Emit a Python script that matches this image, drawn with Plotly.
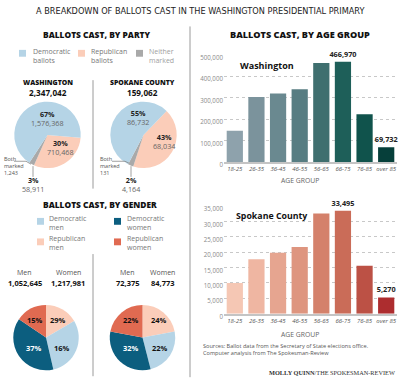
import plotly.graph_objects as go

W, H = 400, 392
def X(px): return px / W
def Y(py): return 1 - py / H

# ---------------- data ----------------
party_names = ["Republican ballots", "Neither marked", "Both marked", "Democratic ballots"]
wa_party = [710468, 58911, 1243, 1576368]
sp_party = [68034, 4164, 131, 86732]
wa_party_total = "2,347,042"
sp_party_total = "159,062"
wa_party_pct = {"dem": "67%", "rep": "30%", "neither": "3%"}
sp_party_pct = {"dem": "55%", "rep": "43%", "neither": "2%"}

gender_names = ["Republican men", "Democratic men", "Democratic women", "Republican women"]
wa_gender = [16, 29, 37, 15]
sp_gender = [22, 24, 32, 22]
wa_gender_text = ["29%", "16%", "37%", "15%"]
sp_gender_text = ["24%", "22%", "32%", "22%"]
wa_men, wa_women = "1,052,645", "1,217,981"
sp_men, sp_women = "72,375", "84,773"

age_groups = ["18-25", "26-35", "36-45", "46-55", "56-65", "66-75", "76-85", "over 85"]
wa_age = [147000, 303000, 320000, 340000, 462000, 466970, 223000, 69732]
sp_age = [10000, 17700, 19800, 21700, 32600, 33495, 15600, 5270]
labelled_bars = [5, 7]
wa_ticks = [0, 100000, 200000, 300000, 400000, 500000]
sp_ticks = [0, 5000, 10000, 15000, 20000, 25000, 30000, 35000]

# ---------------- styles ----------------
DEM = "#b5d4e6"
REP = "#fbcdb9"
NEI = "#a9a9a9"
BOTH = "#8a8a8a"
DEMW = "#0c5e7f"
REPW = "#e06a51"
wa_colors = ["#8ea2ac", "#7b939c", "#6a8990", "#577d82", "#3f6f6f", "#1e5f59", "#10534c", "#063f3a"]
sp_colors = ["#f5c7b4", "#efb6a2", "#e6a590", "#de957f", "#d4816b", "#ca6c58", "#bc5145", "#ad2d2f"]

HEAD = "Open Sans"
BODY = "Open Sans"
COND = "DejaVu Sans Condensed, Roboto, sans-serif"
GREY_TXT = "#777777"

fig = go.Figure()

def pie(values, colors, cx, cy, r, rotation, names):
    fig.add_trace(go.Pie(
        values=values, labels=names, sort=False, direction="clockwise", rotation=rotation,
        marker=dict(colors=colors, line=dict(width=0)), textinfo="none", hoverinfo="label+value",
        domain=dict(x=[X(cx - r), X(cx + r)], y=[Y(cy + r), Y(cy - r)]), showlegend=False))

pie(wa_party, [REP, NEI, BOTH, DEM], 47.5, 136, 34, 95, party_names)
pie(sp_party, [REP, NEI, BOTH, DEM], 143.5, 136, 34, 44, party_names)
pie(wa_gender, [REP, DEM, DEMW, REPW], 46, 343.5, 33.5, 0, gender_names)
pie(sp_gender, [REP, DEM, DEMW, REPW], 142.5, 343.5, 33.5, 0, gender_names)

def bars(vals, colors, xa, ya):
    txt = [f"{v:,}" if i in labelled_bars else "" for i, v in enumerate(vals)]
    fig.add_trace(go.Bar(
        x=age_groups, y=vals, marker=dict(color=colors, line=dict(width=0)),
        text=txt, textposition="outside", cliponaxis=False, constraintext="none",
        textfont=dict(family=HEAD, size=7.3, color="#222", weight="bold"),
        xaxis=xa, yaxis=ya, showlegend=False, width=0.75))

bars(wa_age, wa_colors, "x", "y")
bars(sp_age, sp_colors, "x2", "y2")

xcommon = dict(showgrid=False, showline=True, linecolor="#c4c4c4", linewidth=2, ticks="",
               tickfont=dict(family=BODY, size=6, color="#555", style="italic"), fixedrange=True)
ycommon = dict(showgrid=True, gridcolor="#c8c8c8", griddash="dot", gridwidth=1, zeroline=False,
               showline=False, ticks="", ticklabelshift=3,
               tickfont=dict(family=BODY, size=6.2, color="#8a8a8a"), fixedrange=True)

fig.update_layout(
    width=W, height=H, margin=dict(l=0, r=0, t=0, b=0),
    paper_bgcolor="white", plot_bgcolor="white", bargap=0.25,
    xaxis=dict(domain=[X(224), X(397)], anchor="y", **xcommon),
    yaxis=dict(domain=[Y(164), Y(54)], range=[0, 500000], anchor="x",
               tickvals=wa_ticks, ticktext=[f"{t:,}" for t in wa_ticks], **ycommon),
    xaxis2=dict(domain=[X(224), X(397)], anchor="y2", **xcommon),
    yaxis2=dict(domain=[Y(319), Y(209)], range=[0, 35000], anchor="x2",
                tickvals=sp_ticks, ticktext=[f"{t:,}" for t in sp_ticks], **ycommon),
)

anns = []
def ann(x, y, text, size, color="#222", family=BODY, weight="normal", xa="center", ya="middle", style="normal"):
    anns.append(dict(x=X(x), y=Y(y), xref="paper", yref="paper", text=text, showarrow=False,
                     xanchor=xa, yanchor=ya, align="left" if xa == "left" else ("right" if xa == "right" else "center"),
                     font=dict(family=family, size=size, color=color, weight=weight, style=style)))

# title
ann(200, 9, "A BREAKDOWN OF BALLOTS CAST IN THE WASHINGTON PRESIDENTIAL PRIMARY", 9.1,
    color="#222", family=COND)

# section headings
ann(97, 33, "BALLOTS CAST, BY PARTY", 8.4, color="#111", family=HEAD, weight=800)
ann(300, 33, "BALLOTS CAST, BY AGE GROUP", 9.1, color="#111", family=HEAD, weight=800)
ann(100, 207, "BALLOTS CAST, BY GENDER", 8.4, color="#111", family=HEAD, weight=800)

shapes = []
def rect(x0, y0, x1, y1, color):
    shapes.append(dict(type="rect", xref="paper", yref="paper", x0=X(x0), x1=X(x1), y0=Y(y1), y1=Y(y0),
                       fillcolor=color, line=dict(width=0)))
def line(x0, y0, x1, y1, color="#999", width=1):
    shapes.append(dict(type="line", xref="paper", yref="paper", x0=X(x0), x1=X(x1), y0=Y(y0), y1=Y(y1),
                       line=dict(color=color, width=width)))

# party legend
rect(19, 49, 26, 56, DEM)
ann(31, 55, "Democratic<br>ballots", 7, color=GREY_TXT, xa="left")
rect(78, 49, 85, 56, REP)
ann(89, 55, "Republican<br>ballots", 7, color=GREY_TXT, xa="left")
rect(136, 49, 143, 56, NEI)
ann(147, 55, "Neither<br>marked", 7, color="#a0a0a0", xa="left")

# party pie headers
ann(48, 82, "WASHINGTON", 6.9, color="#111", family=HEAD, weight=800)
ann(48, 92.5, wa_party_total, 8.2, color="#111", family=HEAD, weight="bold")
ann(142, 82, "SPOKANE COUNTY", 6.9, color="#111", family=HEAD, weight=800)
ann(142, 92.5, sp_party_total, 8.2, color="#111", family=HEAD, weight="bold")

def two(pct, num):
    return f"<b>{pct}</b><br><span style='color:#666'>{num}</span>"

ann(47, 119, two(wa_party_pct["dem"], f"{wa_party[3]:,}"), 7.2, color="#222")
ann(60, 149, two(wa_party_pct["rep"], f"{wa_party[0]:,}"), 7.2, color="#222")
ann(33, 187, two(wa_party_pct["neither"], f"{wa_party[1]:,}"), 7.2, color="#222")
ann(2, 168, f"Both<br>marked<br>{wa_party[2]:,}", 5.5, color="#555", xa="left")
line(14, 163, 26, 163, "#888", 0.8)
line(26, 163, 31, 166, "#888", 0.8)
line(33, 168, 33, 179, "#888", 0.8)

ann(138, 118, two(sp_party_pct["dem"], f"{sp_party[3]:,}"), 7.2, color="#222")
ann(164, 143, two(sp_party_pct["rep"], f"{sp_party[0]:,}"), 7.2, color="#222")
ann(131, 187, two(sp_party_pct["neither"], f"{sp_party[1]:,}"), 7.2, color="#222")
ann(98, 168, f"Both<br>marked<br>{sp_party[2]:,}", 5.5, color="#555", xa="left")
line(112, 163, 125, 163, "#888", 0.8)
line(125, 163, 129, 165, "#888", 0.8)
line(131, 168, 131, 179, "#888", 0.8)

# gender legend
rect(37, 221, 44, 228, DEM)
ann(47, 226, "Democratic<br>men", 7, color=GREY_TXT, xa="left")
rect(114, 221, 121, 228, DEMW)
ann(125, 226, "Democratic<br>women", 7, color=GREY_TXT, xa="left")
rect(37, 242, 44, 249, REP)
ann(47, 247, "Republican<br>men", 7, color=GREY_TXT, xa="left")
rect(114, 242, 121, 249, REPW)
ann(125, 247, "Republican<br>women", 7, color=GREY_TXT, xa="left")

# men / women headers
ann(24, 277, "Men", 7, color="#555")
ann(68, 277, "Women", 7, color="#555")
ann(25, 288, wa_men, 7.5, color="#111", family=HEAD, weight="bold")
ann(68, 288, wa_women, 7.5, color="#111", family=HEAD, weight="bold")
ann(127, 277, "Men", 7, color="#555")
ann(162, 277, "Women", 7, color="#555")
ann(128, 288, sp_men, 7.5, color="#111", family=HEAD, weight="bold")
ann(163, 288, sp_women, 7.5, color="#111", family=HEAD, weight="bold")

# gender pie labels (salmon, blue, teal, red)
gpos_wa = [(58, 325), (62, 354), (34, 354), (35, 325)]
gpos_sp = [(159, 325), (160, 354), (131, 354), (131, 325)]
tcol = ["#111", "#111", "white", "#111"]
for (x, y), t, c in zip(gpos_wa, wa_gender_text, tcol):
    ann(x, y, t, 7.5, color=c, family=HEAD, weight="bold")
for (x, y), t, c in zip(gpos_sp, sp_gender_text, tcol):
    ann(x, y, t, 7.5, color=c, family=HEAD, weight="bold")

# bar chart labels
ann(238, 65, "Washington", 9, color="#111", family=HEAD, weight="bold", xa="left")
ann(234, 219, "Spokane County", 8.8, color="#111", family=HEAD, weight="bold", xa="left")
ann(300, 183, "AGE GROUP", 6.8, color="#666")
ann(300, 340, "AGE GROUP", 6.8, color="#666")

# footer
ann(201, 356, "Sources: Ballot data from the Secretary of State elections office.<br>Computer analysis from The Spokesman-Review",
    5.6, color="#555", xa="left")
ann(397, 379, "<b>MOLLY QUINN</b>/THE SPOKESMAN-REVIEW", 6.3, color="#333",
    family="Liberation Serif, DejaVu Serif, serif", xa="right")

# dividers
line(190, 25, 190, 384, "#9a9a9a", 1)
line(93, 80, 93, 191, "#9a9a9a", 1)
line(93, 258, 93, 383, "#9a9a9a", 1)

fig.update_layout(annotations=anns, shapes=shapes)
fig.write_html("out.html", config={"displayModeBar": False},
               post_script="document.body.style.margin='0';document.body.style.overflow='hidden';")
